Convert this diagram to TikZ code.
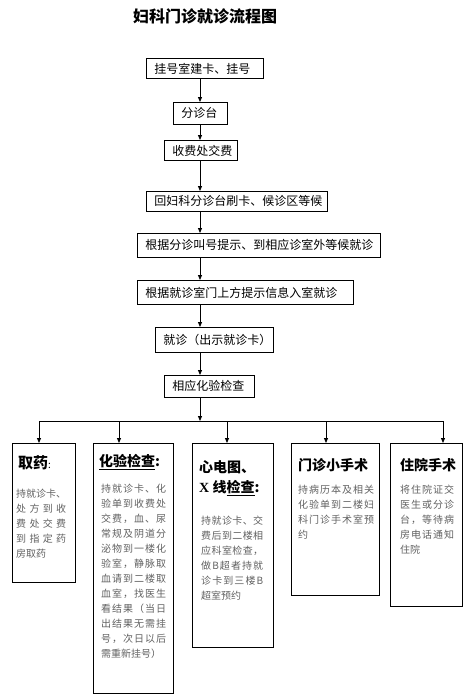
\documentclass[tikz,border=0pt]{standalone}
\usepackage{fontspec}
\setmainfont{Noto Sans CJK SC}
\newfontfamily\xserif{Liberation Serif}
\usetikzlibrary{arrows.meta}
\makeatletter
\def\sp@loop#1{\ifx\relax#1\else#1\hfill\expandafter\sp@loop\fi}
\newcommand\sline[1]{\hbox to \hsize{\sp@loop#1\relax\unskip}}
\newcommand\nline[1]{\hbox{#1}}
\newcommand\bodyblk[2]{\vtop{\hsize=#1\relax #2}}
\makeatother
\tikzset{
  mbox/.style={draw, line width=.8pt, inner xsep=8pt, inner ysep=0pt, anchor=north west, align=left, font=\fontsize{12}{14}\selectfont},
  bbox/.style={draw, line width=.8pt, inner sep=0pt, anchor=north west},
  head/.style={anchor=west, inner sep=0pt, font=\fontsize{14}{16}\selectfont\bfseries},
  body/.style={anchor=north west, inner sep=0pt, text=black!62, font=\fontsize{10}{15}\selectfont},
  arr/.style={line width=.8pt, -{Triangle[length=5pt,width=4pt]}},
  conn/.style={line width=.8pt}
}
\begin{document}
\begin{tikzpicture}[x=1pt,y=-1pt]
\useasboundingbox (0,0) rectangle (472,697);
\node[font=\fontsize{16}{18}\selectfont\bfseries] (title) at (205,16.5) {妇科门诊就诊流程图};
% main chain
\node[mbox, text width=101pt, minimum height=20pt] (b1) at (146,58) {挂号室建卡、挂号};
\node[mbox, text width=38pt, minimum height=22pt] (b2) at (173,102) {分诊台};
\node[mbox, text width=57pt, minimum height=20pt] (b3) at (164,140) {收费处交费};
\node[mbox, text width=165pt, minimum height=20pt] (b4) at (146,191) {回妇科分诊台刷卡、候诊区等候};
\node[mbox, text width=227pt, minimum height=24pt] (b5) at (137,233) {根据分诊叫号提示、到相应诊室外等候就诊};
\node[mbox, text width=200pt, minimum height=24pt] (b6) at (137,280) {根据就诊室门上方提示信息入室就诊};
\node[mbox, text width=102pt, minimum height=25pt] (b7) at (155,327) {就诊（出示就诊卡）};
\node[mbox, text width=74pt, minimum height=22pt] (b8) at (164,375) {相应化验检查};
\coordinate (spine) at (200,0);
\draw[arr] (b1.south -| spine) -- (b2.north -| spine);
\draw[arr] (b2.south -| spine) -- (b3.north -| spine);
\draw[arr] (b3.south -| spine) -- (b4.north -| spine);
\draw[arr] (b4.south -| spine) -- (b5.north -| spine);
\draw[arr] (b5.south -| spine) -- (b6.north -| spine);
\draw[arr] (b6.south -| spine) -- (b7.north -| spine);
\draw[arr] (b7.south -| spine) -- (b8.north -| spine);
\coordinate (J) at (200,421);
\draw[arr] (b8.south -| spine) -- (J);
% bottom boxes
\node[bbox, minimum width=63pt, minimum height=139pt] (A) at (12,443) {};
\node[bbox, minimum width=80pt, minimum height=250pt] (B) at (93,443) {};
\node[bbox, minimum width=81pt, minimum height=204pt] (C) at (192,443) {};
\node[bbox, minimum width=88pt, minimum height=152pt] (D) at (291,443) {};
\node[bbox, minimum width=72pt, minimum height=163pt] (E) at (390,443) {};
% bus
\coordinate (dA) at (39,421);
\coordinate (dB) at (119,421);
\coordinate (dC) at (227,421);
\coordinate (dD) at (326,421);
\coordinate (dE) at (443,421);
\draw[conn] (dA) -- (dE);
\draw[arr] (dA) -- (A.north -| dA);
\draw[arr] (dB) -- (B.north -| dB);
\draw[arr] (dC) -- (C.north -| dC);
\draw[arr] (dD) -- (D.north -| dD);
\draw[arr] (dE) -- (E.north -| dE);
% box A
\node[head, font=\fontsize{15}{16}\selectfont\bfseries] (Ah) at (18,463) {取药\textmd{\fontsize{10}{10}\selectfont :}};
\node[body] (At) at (16,488.5) {\bodyblk{50pt}{\sline{持就诊卡、}\sline{处方到收}\sline{费处交费}\sline{到指定药}\nline{房取药}}};
% box B
\node[head] (Bh) at (99,462) {\underline{化验检查}:};
\node[body] (Bt) at (101,483.5) {\bodyblk{65pt}{\sline{持就诊卡、化}\sline{验单到收费处}\sline{交费，血、尿}\sline{常规及阴道分}\sline{泌物到一楼化}\sline{验室，静脉取}\sline{血请到二楼取}\sline{血室，找医生}\sline{看结果（当日}\sline{出结果无需挂}\sline{号，次日以后}\nline{需重新挂号）}}};
% box C
\node[head] (Ch1) at (199,467) {心电图、};
\node[head] (Ch2) at (199,488.5) {{\xserif X} 线\underline{检查}:};
\node[body] (Ct) at (201,516) {\bodyblk{62pt}{\sline{持就诊卡、交}\sline{费后到二楼相}\sline{应科室检查，}\sline{做 B 超者持就}\sline{诊卡到三楼 B}\nline{超室预约}}};
% box D
\node[head] (Dh) at (298,465) {门诊小手术};
\node[body] (Dt) at (298,484.5) {\bodyblk{76pt}{\sline{持病历本及相关}\sline{化验单到二楼妇}\sline{科门诊手术室预}\nline{约}}};
% box E
\node[head] (Eh) at (400,465) {住院手术};
\node[body] (Et) at (400,484.5) {\bodyblk{54pt}{\sline{将住院证交}\sline{医生或分诊}\sline{台，等待病}\sline{房电话通知}\nline{住院}}};
\end{tikzpicture}
\end{document}
